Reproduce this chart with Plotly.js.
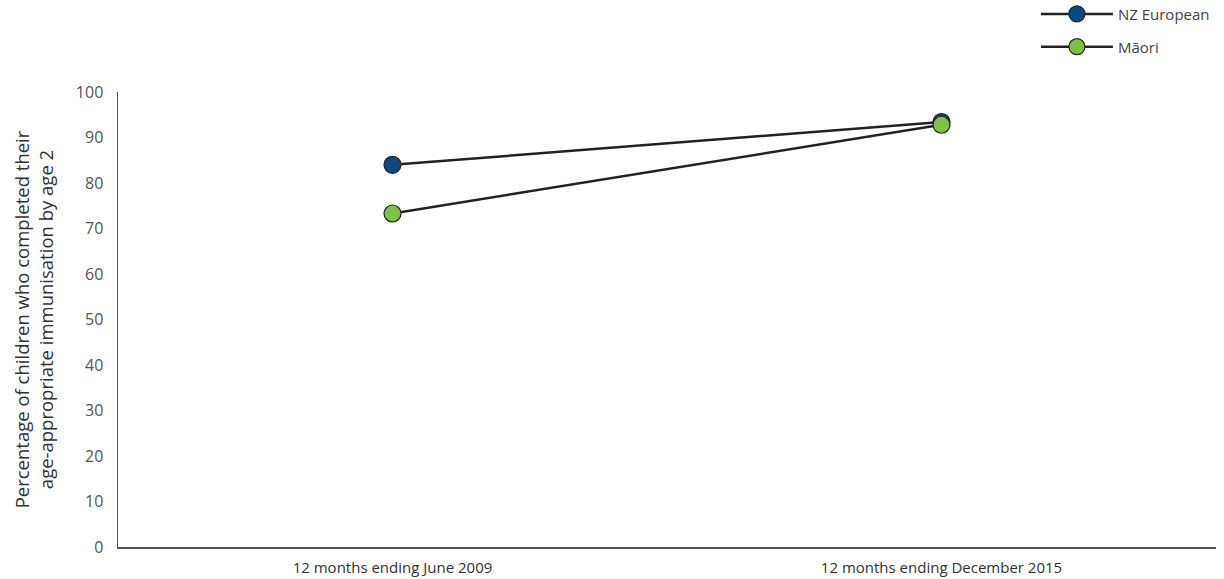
<!DOCTYPE html>
<html><head><meta charset="utf-8">
<script src="https://cdn.plot.ly/plotly-3.0.1.min.js"></script>
<style>body{margin:0;background:#fff}#c{width:1224px;height:579px}</style>
</head><body><div id="c"></div>
<script>
const categories = ["12 months ending June 2009", "12 months ending December 2015"];
const nzEuropean = [84.0, 93.4];
const maori = [73.3, 92.8];
const seriesNames = ["NZ European", "M\u0101ori"];
const yTicks = [0,10,20,30,40,50,60,70,80,90,100];

const base = {type:'scatter', mode:'lines+markers', x:categories, line:{color:'#222', width:2.5}, cliponaxis:false};
const traces = [
  Object.assign({}, base, {y:nzEuropean, name:seriesNames[0], legend:'legend',
    marker:{size:17, color:'#0a4a80', line:{color:'#222', width:1.2}}}),
  Object.assign({}, base, {y:maori, name:seriesNames[1], legend:'legend2',
    marker:{size:17, color:'#7cc244', line:{color:'#222', width:1.2}}})
];
const legStyle = {x:0.836, xanchor:'left', yanchor:'middle', bgcolor:'rgba(0,0,0,0)',
  font:{family:'"Open Sans", sans-serif', size:15, color:'#444'}, itemsizing:'trace', itemwidth:72};
const layout = {
  width:1224, height:579,
  margin:{l:118, r:8, t:92, b:32, autoexpand:false},
  paper_bgcolor:'#fff', plot_bgcolor:'#fff',
  font:{family:'"Open Sans", sans-serif', color:'#444'},
  showlegend:true,
  legend:Object.assign({}, legStyle, {y:1.171}),
  legend2:Object.assign({}, legStyle, {y:1.099}),
  xaxis:{type:'category', range:[-0.5,1.5], showgrid:false, zeroline:false, automargin:false,
    showline:true, linecolor:'#555', linewidth:1.5, ticks:'', ticklabelstandoff:6,
    tickfont:{family:'"Open Sans", sans-serif', size:15, color:'#333'}},
  yaxis:{range:[0,100], tickvals:yTicks, showgrid:false, zeroline:false, automargin:false,
    showline:true, linecolor:'#555', linewidth:1.5, ticks:'', ticklabelstandoff:10,
    tickfont:{family:'"Open Sans", sans-serif', size:16, color:'#555'},
    title:{text:'Percentage of children who completed their<br>age-appropriate immunisation by age 2',
      font:{family:'"Open Sans", sans-serif', size:18.5, color:'#333'}, standoff:17}}
};
Plotly.newPlot('c', traces, layout, {displayModeBar:false, staticPlot:true});
</script></body></html>
